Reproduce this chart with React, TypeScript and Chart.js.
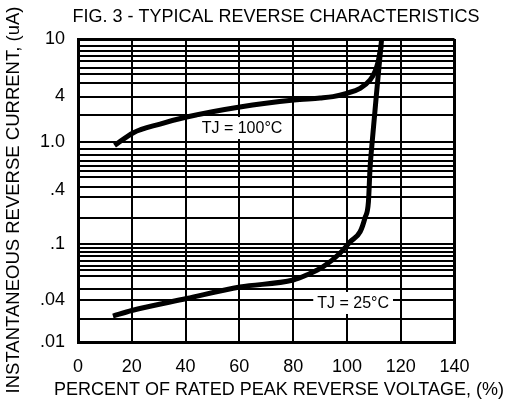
import React, { useEffect, useRef } from 'react';
import { Chart, LogarithmicScale, registerables } from 'chart.js';

// ---------------- data ----------------
const chartTitle = 'FIG. 3 - TYPICAL REVERSE CHARACTERISTICS';
const xAxisTitle = 'PERCENT OF RATED PEAK REVERSE VOLTAGE, (%)';
const yAxisTitle = 'INSTANTANEOUS REVERSE CURRENT, (uA)';

const xMin = 0;
const xMax = 140;
const xStep = 20;
const yMin = 0.01;
const yMax = 10;

const yLabelValues = [0.01, 0.04, 0.1, 0.4, 1, 4, 10];
const yLabelTexts = ['.01', '.04', '.1', '.4', '1.0', '4', '10'];

const yGridValues = [
  10, 9, 8.25, 7.6, 7, 6.3, 5.7, 5, 4, 2.3,
  1, 0.87, 0.78, 0.69, 0.63, 0.57, 0.51, 0.42, 0.33, 0.195,
  0.1, 0.093, 0.088, 0.082, 0.076, 0.07, 0.065, 0.059, 0.048, 0.04, 0.0215, 0.01,
];

const hotLabel = 'TJ = 100°C';
const hotX = [13.6, 20.45, 30.5, 40.4, 60.2, 80.3, 90.0, 94.8, 99.9, 104.9, 108.6, 110.4, 111.6, 112.3, 112.8];
const hotY = [0.93, 1.31, 1.72, 2.13, 2.9, 3.59, 3.82, 3.99, 4.21, 4.56, 5.2, 5.94, 6.96, 8.17, 9.09];

const coldLabel = 'TJ = 25°C';
const coldX = [13.0, 20.0, 40.4, 60.2, 80.0, 85.0, 91.2, 97.4, 101.2, 104.9, 106.7, 108.0, 108.6, 109.4, 110.9, 112.9];
const coldY = [0.0237, 0.0284, 0.041, 0.0495, 0.0555, 0.0602, 0.069, 0.0859, 0.106, 0.137, 0.195, 0.296, 0.607, 1.0, 4, 10];

const curveLabelTexts = [hotLabel, coldLabel];
const curveLabelX = [61, 102.3];
const curveLabelY = [1.52, 0.0363];

// ---------------- axis geometry of the printed log paper ----------------
// fraction of the axis height (from the bottom) at which each labelled value sits
const WARP_POS = [0, 0.14, 0.3245, 0.5025, 0.6616, 0.8105, 1];
const WARP_LOG = yLabelValues.map((v) => Math.log10(v));

function warp(v: number): number {
  const l = Math.log10(v);
  let i = 0;
  while (i < WARP_LOG.length - 2 && l > WARP_LOG[i + 1]) i++;
  return (
    WARP_POS[i] +
    ((l - WARP_LOG[i]) / (WARP_LOG[i + 1] - WARP_LOG[i])) * (WARP_POS[i + 1] - WARP_POS[i])
  );
}
function unwarp(d: number): number {
  let i = 0;
  while (i < WARP_POS.length - 2 && d > WARP_POS[i + 1]) i++;
  const l =
    WARP_LOG[i] + ((d - WARP_POS[i]) / (WARP_POS[i + 1] - WARP_POS[i])) * (WARP_LOG[i + 1] - WARP_LOG[i]);
  return Math.pow(10, l);
}

class WarpedLogScale extends LogarithmicScale {
  static id = 'warpedLog';
  getPixelForValue(value: any): number {
    if (value === null || value === undefined || isNaN(value) || value <= 0) return NaN;
    return this.getPixelForDecimal(warp(value));
  }
  getValueForPixel(pixel: number): number {
    return unwarp(this.getDecimalForPixel(pixel));
  }
}

Chart.register(...registerables, WarpedLogScale as any);

const FONT = '"Liberation Sans", Arial, Helvetica, sans-serif';
const yTickUnion = Array.from(new Set([...yGridValues, ...yLabelValues])).sort((a, b) => a - b);
const gridSet = new Set(yGridValues);

const figTextPlugin = {
  id: 'figText',
  afterDatasetsDraw(chart: any) {
    const { ctx } = chart;
    const xs = chart.scales.x;
    const ys = chart.scales.y;
    ctx.save();
    ctx.font = `16px ${FONT}`;
    ctx.textAlign = 'center';
    ctx.textBaseline = 'middle';
    curveLabelTexts.forEach((t, i) => {
      const px = xs.getPixelForValue(curveLabelX[i]);
      const py = ys.getPixelForValue(curveLabelY[i]);
      const w = ctx.measureText(t).width;
      ctx.fillStyle = '#fff';
      ctx.fillRect(px - w / 2 - 4, py - 11, w + 8, 22);
      ctx.fillStyle = '#000';
      ctx.fillText(t, px, py + 1);
    });
    ctx.restore();
  },
  afterDraw(chart: any) {
    const { ctx } = chart;
    ctx.save();
    ctx.fillStyle = '#000';
    ctx.textAlign = 'center';
    ctx.textBaseline = 'alphabetic';
    ctx.font = `18px ${FONT}`;
    ctx.fillText(chartTitle, 276, 22);
    ctx.fillText(xAxisTitle, 279, 395);
    ctx.translate(19, 200);
    ctx.rotate(-Math.PI / 2);
    ctx.font = `18.5px ${FONT}`;
    ctx.fillText(yAxisTitle, 0, 0);
    ctx.restore();
  },
};

export default function App() {
  const ref = useRef<HTMLCanvasElement>(null);
  useEffect(() => {
    const canvas = ref.current;
    if (!canvas) return;
    const chart = new Chart(canvas, {
      type: 'line',
      data: {
        datasets: [
          {
            label: hotLabel,
            data: hotX.map((x, i) => ({ x, y: hotY[i] })),
            borderColor: '#000',
            borderWidth: 5,
            pointRadius: 0,
            fill: false,
            cubicInterpolationMode: 'monotone',
          },
          {
            label: coldLabel,
            data: coldX.map((x, i) => ({ x, y: coldY[i] })),
            borderColor: '#000',
            borderWidth: 5,
            pointRadius: 0,
            fill: false,
            cubicInterpolationMode: 'monotone',
          },
        ],
      },
      options: {
        responsive: false,
        animation: false,
        events: [],
        layout: { padding: { left: 8, right: 58.5, top: 39, bottom: 17.5 } },
        plugins: { legend: { display: false }, tooltip: { enabled: false }, title: { display: false } },
        scales: {
          x: {
            type: 'linear',
            min: xMin,
            max: xMax,
            afterFit: (s: any) => {
              s.height = 40;
            },
            ticks: { stepSize: xStep, padding: 14, color: '#000', font: { family: FONT, size: 18 } },
            grid: {
              color: '#000',
              lineWidth: (c: any) => (c.tick && c.tick.value === xMax ? 3 : 2),
              drawTicks: false,
            },
            border: { display: true, color: '#000', width: 3 },
          },
          y: {
            type: 'warpedLog' as any,
            min: yMin,
            max: yMax,
            afterBuildTicks: (s: any) => {
              s.ticks = yTickUnion.map((v) => ({ value: v }));
            },
            afterFit: (s: any) => {
              s.width = 70;
            },
            ticks: {
              autoSkip: false,
              padding: 13,
              color: '#000',
              font: { family: FONT, size: 18 },
              callback: (v: any) => {
                const i = yLabelValues.indexOf(Number(v));
                return i >= 0 ? yLabelTexts[i] : '';
              },
            },
            grid: {
              color: (c: any) => (c.tick && gridSet.has(c.tick.value) ? '#000' : 'rgba(0,0,0,0)'),
              lineWidth: (c: any) => (c.tick && c.tick.value === yMax ? 3 : 2),
              drawTicks: false,
            },
            border: { display: true, color: '#000', width: 3 },
          },
        },
      } as any,
      plugins: [figTextPlugin],
    });
    return () => chart.destroy();
  }, []);
  return (
    <div style={{ position: 'fixed', left: 0, top: 0, width: 513, height: 400, background: '#fff' }}>
      <canvas ref={ref} width={513} height={400} style={{ display: 'block', width: 513, height: 400 }} />
    </div>
  );
}
